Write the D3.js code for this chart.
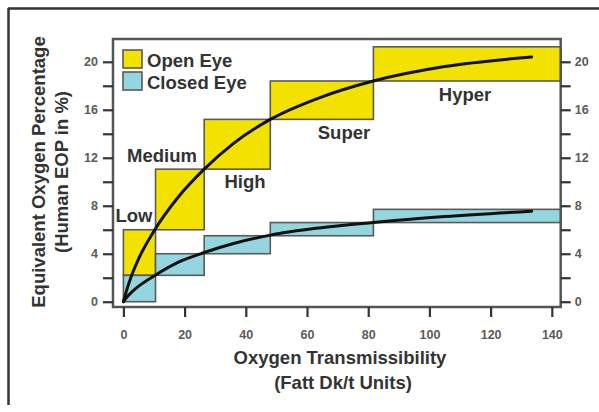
<!DOCTYPE html>
<html>
<head>
<meta charset="utf-8">
<script src="https://cdn.jsdelivr.net/npm/d3@7"></script>
<style>
  html, body { margin: 0; padding: 0; background: #fff; }
  svg { display: block; font-family: "Liberation Sans", Arial, Helvetica, sans-serif; }
</style>
</head>
<body>
<svg id="chart" width="599" height="412"></svg>
<script>
// Lens oxygen-transmissibility classes
const categories = ["Low", "Medium", "High", "Super", "Hyper"];
// Dk/t boundaries of each class (last one runs to the axis end)
const classEdges = [0, 10.5, 26.4, 48, 81.7, 142.9];
// Open eye EOP range for each class
const openLow  = [2.2, 6.0, 11.05, 15.2, 18.4];
const openHigh = [6.0, 11.05, 15.2, 18.4, 21.25];
// Closed eye EOP range for each class
const closedLow  = [0, 2.2, 4.0, 5.5, 6.6];
const closedHigh = [2.2, 4.0, 5.5, 6.6, 7.7];

// EOP curves (Dk/t vs EOP %)
const curveDkt    = [0, 1, 2.7, 5, 10, 18, 26.4, 36, 48, 64, 81.7, 105, 133.4];
const openCurve   = [0, 0.9, 2.2, 3.6, 5.9, 8.75, 11.05, 13.2, 15.2, 17.0, 18.4, 19.6, 20.4];
const closedCurve = [0, 0.35, 0.8, 1.3, 2.15, 3.3, 4.1, 4.85, 5.55, 6.15, 6.6, 7.1, 7.55];

// Axis ticks
const xTicks = [0, 20, 40, 60, 80, 100, 120, 140];
const yTicks = [0, 2, 4, 6, 8, 10, 12, 14, 16, 18, 20];
const yLabelled = [0, 4, 8, 12, 16, 20];

const seriesNames = ["Open Eye", "Closed Eye"];
const colors = { open: "#f3e200", closed: "#93d6df", box: "#5a5a5a", text: "#333" };
const fontSize = 18.5;

const svg = d3.select("#chart");

// Outer frame (left and top edges)
svg.append("line").attr("x1", 8.5).attr("y1", 8).attr("x2", 8.5).attr("y2", 405)
  .attr("stroke", "#333").attr("stroke-width", 2.5);
svg.append("line").attr("x1", 8).attr("y1", 8.5).attr("x2", 599).attr("y2", 8.5)
  .attr("stroke", "#333").attr("stroke-width", 2.5);

const plot = { left: 113, top: 39, right: 560.7, bottom: 307 };
const x = d3.scaleLinear().domain([-3.4, 142.9]).range([plot.left, plot.right]);
const y = d3.scaleLinear().domain([-0.44, 21.9]).range([plot.bottom, plot.top]);

// Class boxes
const boxes = categories.map((c, i) => ({
  name: c, x0: classEdges[i], x1: classEdges[i + 1],
  o0: openLow[i], o1: openHigh[i], c0: closedLow[i], c1: closedHigh[i]
}));

const g = svg.append("g");
g.selectAll("rect.open").data(boxes).join("rect")
  .attr("class", "open")
  .attr("x", d => x(d.x0)).attr("width", d => x(d.x1) - x(d.x0))
  .attr("y", d => y(d.o1)).attr("height", d => y(d.o0) - y(d.o1))
  .attr("fill", colors.open).attr("stroke", colors.box).attr("stroke-width", 1.6);
g.selectAll("rect.closed").data(boxes).join("rect")
  .attr("class", "closed")
  .attr("x", d => x(d.x0)).attr("width", d => x(d.x1) - x(d.x0))
  .attr("y", d => y(d.c1)).attr("height", d => y(d.c0) - y(d.c1))
  .attr("fill", colors.closed).attr("stroke", colors.box).attr("stroke-width", 1.6);

// Curves
const line = d3.line().x(d => x(d[0])).y(d => y(d[1])).curve(d3.curveMonotoneX);
[openCurve, closedCurve].forEach(vals => {
  g.append("path")
    .datum(curveDkt.map((v, i) => [v, vals[i]]))
    .attr("d", line).attr("fill", "none")
    .attr("stroke", "#111").attr("stroke-width", 3).attr("stroke-linecap", "round");
});

// Plot border
svg.append("rect")
  .attr("x", plot.left).attr("y", plot.top)
  .attr("width", plot.right - plot.left).attr("height", plot.bottom - plot.top)
  .attr("fill", "none").attr("stroke", "#555").attr("stroke-width", 2.5);

// Axes
const tickFmt = d => yLabelled.includes(d) ? d : "";
const styleAxis = sel => {
  sel.select(".domain").remove();
  sel.selectAll(".tick line").attr("stroke", "#333").attr("stroke-width", 2.2);
  sel.selectAll(".tick text").attr("fill", "#5a5a5a").attr("font-size", 12.5).attr("font-weight", "bold");
};
svg.append("g").attr("transform", `translate(${plot.left},0)`)
  .call(d3.axisLeft(y).tickValues(yTicks).tickFormat(tickFmt).tickSize(10).tickPadding(5))
  .call(styleAxis);
svg.append("g").attr("transform", `translate(${plot.right},0)`)
  .call(d3.axisRight(y).tickValues(yTicks).tickFormat(tickFmt).tickSize(10).tickPadding(4))
  .call(styleAxis);
svg.append("g").attr("transform", `translate(0,${plot.bottom})`)
  .call(d3.axisBottom(x).tickValues(xTicks).tickSize(10).tickPadding(13))
  .call(styleAxis);

// Class labels
const labelPos = { Low: [134, 221.5], Medium: [162, 161.5], High: [245, 188], Super: [344, 139], Hyper: [465, 101] };
svg.selectAll("text.cat").data(categories).join("text")
  .attr("class", "cat")
  .attr("x", d => labelPos[d][0]).attr("y", d => labelPos[d][1])
  .attr("text-anchor", "middle").attr("font-size", fontSize).attr("font-weight", "bold")
  .attr("fill", colors.text).text(d => d);

// Legend
const legend = svg.append("g");
[colors.open, colors.closed].forEach((c, i) => {
  legend.append("rect").attr("x", 123).attr("y", 50 + i * 22).attr("width", 19).attr("height", 18)
    .attr("fill", c).attr("stroke", colors.box).attr("stroke-width", 1.6);
  legend.append("text").attr("x", 147).attr("y", 66.5 + i * 22.5)
    .attr("font-size", fontSize).attr("font-weight", "bold").attr("fill", colors.text)
    .text(seriesNames[i]);
});

// Axis titles
svg.append("text").attr("transform", "translate(44.5,172) rotate(-90)")
  .attr("text-anchor", "middle").attr("font-size", fontSize).attr("font-weight", "bold")
  .attr("fill", colors.text).text("Equivalent Oxygen Percentage");
svg.append("text").attr("transform", "translate(68,172) rotate(-90)")
  .attr("text-anchor", "middle").attr("font-size", fontSize).attr("font-weight", "bold")
  .attr("fill", colors.text).text("(Human EOP in %)");
svg.append("text").attr("x", 340).attr("y", 363.5)
  .attr("text-anchor", "middle").attr("font-size", fontSize).attr("font-weight", "bold")
  .attr("fill", colors.text).text("Oxygen Transmissibility");
svg.append("text").attr("x", 343).attr("y", 388.5)
  .attr("text-anchor", "middle").attr("font-size", fontSize).attr("font-weight", "bold")
  .attr("fill", colors.text).text("(Fatt Dk/t Units)");
</script>
</body>
</html>
